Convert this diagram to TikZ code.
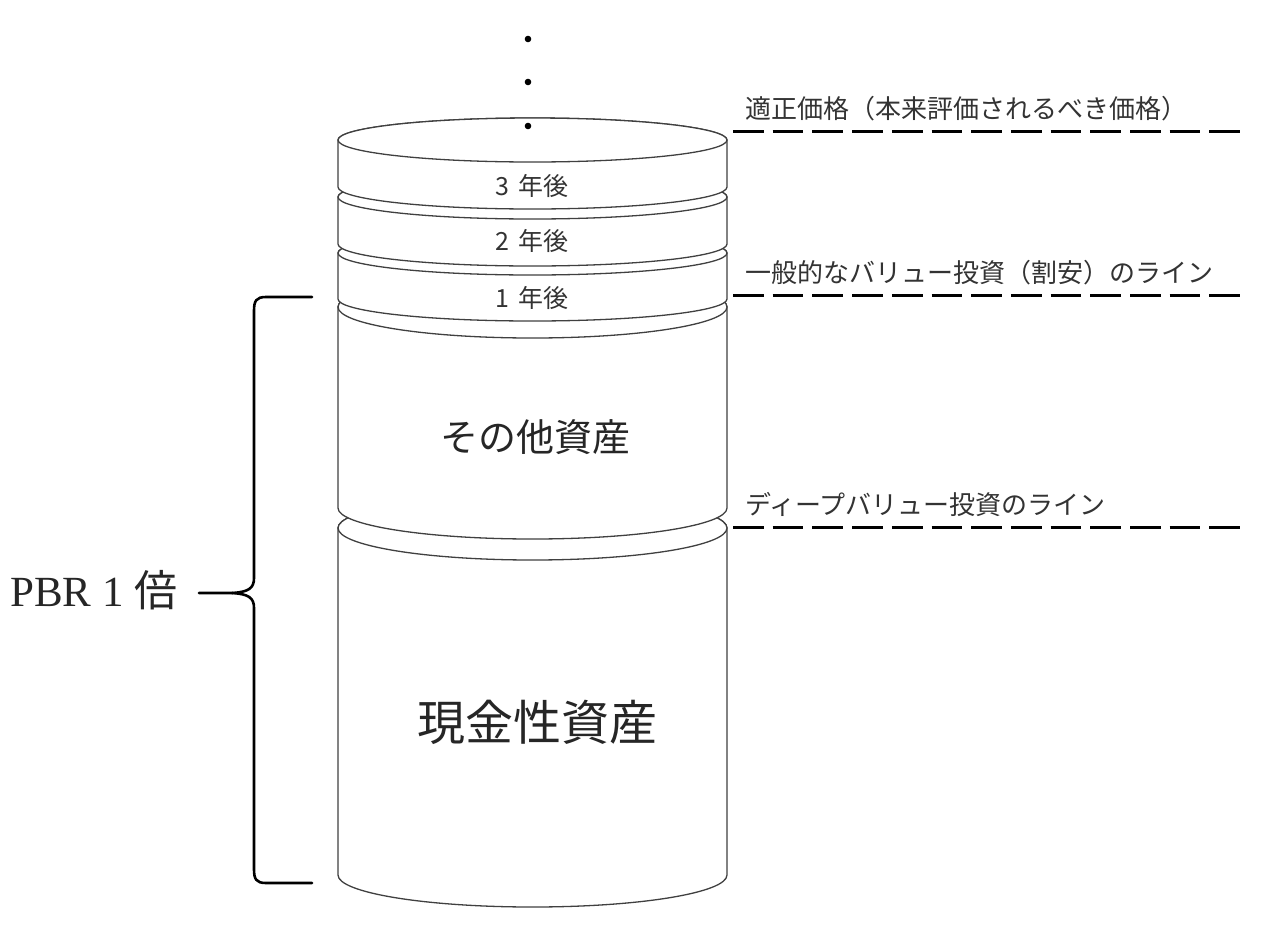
\documentclass[tikz,border=0pt]{standalone}
\usepackage{fontspec}
\setmainfont{Liberation Serif}
\newfontfamily\jp{Noto Sans CJK JP}
\usetikzlibrary{positioning}

% one stacked can: top, bottom of the side, half height of the ellipse
\newcommand{\can}[3]{%
  \filldraw[can] (338,#1) -- (338,#2)
    arc[start angle=180, end angle=0, x radius=194.5, y radius=#3] -- (727,#1)
    arc[start angle=0, end angle=-180, x radius=194.5, y radius=#3] -- cycle;
  \draw[can] (532.5,#1) ellipse[x radius=194.5, y radius=#3];
}

\begin{document}
\begin{tikzpicture}[x=1pt, y=-1pt,
  can/.style = {draw=black!75, line width=1.3pt, fill=white},
  bandtxt/.style = {font=\jp\fontsize{25}{27}\selectfont, text=black!80},
  bigtxt/.style = {font=\jp\fontsize{38}{40}\selectfont, text=black!85},
  linetxt/.style = {font=\jp\fontsize{26}{28}\selectfont, text=black!80, inner sep=0pt},
  level/.style = {line width=3pt, dash pattern=on 30.7pt off 9pt},
  brace/.style = {line width=2.6pt, line cap=round, line join=round}]

\useasboundingbox (0,0) rectangle (1279,930);

% cans, from the bottom up
\can{528}{875}{32}
\can{307}{508}{31}
\can{253}{299}{22}
\can{197}{244}{22}
\can{140}{187}{22}

\foreach \y in {39,82,126}
  \fill (528,\y) circle[radius=3.3];

\node[bandtxt] (y3) at (532,186) {3\,\,年後};
\node[bandtxt] (y2) at (532,241) {2\,\,年後};
\node[bandtxt] (y1) at (532,298) {1\,\,年後};
\node[bigtxt] (other) at (535,437) {その他資産};
\node[bigtxt, font=\jp\fontsize{48}{50}\selectfont] (cash) at (537,722) {現金性資産};

% price lines
\coordinate (fairL) at (733,131);
\coordinate (fairR) at (1240,131);
\coordinate (cheapL) at (733,295);
\coordinate (cheapR) at (1240,295);
\coordinate (deepL) at (733,527);
\coordinate (deepR) at (1240,527);

\draw[level] (fairL) -- (fairR);
\draw[level] (cheapL) -- (cheapR);
\draw[level] (deepL) -- (deepR);

\node[linetxt, above right=10pt and 12pt of fairL] (fair) {適正価格（本来評価されるべき価格）};
\node[linetxt, above right=10pt and 12pt of cheapL] (cheap) {一般的なバリュー投資（割安）のライン};
\node[linetxt, above right=10pt and 12pt of deepL] (deep) {ディープバリュー投資のライン};

% brace
\coordinate (brTop) at (312,297);
\coordinate (brBot) at (312,883);
\coordinate (brTip) at (199,593);

\draw[brace] (brTop) -- (266,297) .. controls (256,297) and (254,301) .. (254,311)
  -- (254,578) .. controls (254,588) and (249,592) .. (232,593) -- (brTip);
\draw[brace] (232,593) .. controls (249,594) and (254,598) .. (254,608)
  -- (254,869) .. controls (254,879) and (256,883) .. (266,883) -- (brBot);

\node[left=18pt of brTip, yshift=3pt, font=\fontsize{43}{45}\selectfont, text=black!85] (pbr) {PBR 1 {\jp 倍}};

\end{tikzpicture}
\end{document}
